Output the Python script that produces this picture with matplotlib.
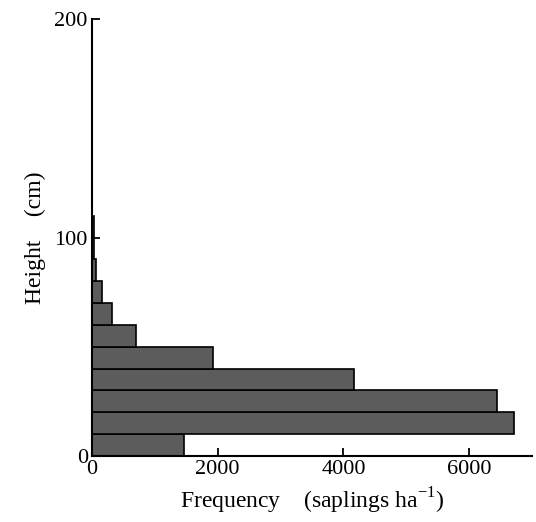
import matplotlib.pyplot as plt

# height classes (cm), lower edges of 10 cm bins
bin_lower = [0, 10, 20, 30, 40, 50, 60, 70, 80, 90, 100]
# saplings per hectare in each class
freq = [1460, 6710, 6450, 4170, 1930, 700, 320, 160, 65, 35, 25]

plt.rcParams['font.family'] = ['Liberation Serif', 'DejaVu Serif']

fig = plt.figure(figsize=(5.36, 5.22), dpi=100)
ax = fig.add_axes([0.1716, 0.1264, 0.8209, 0.8372])

ax.barh(bin_lower, freq, height=10, align='edge', color='#5c5c5c',
        edgecolor='black', linewidth=1.2)

ax.set_xlim(0, 7000)
ax.set_ylim(0, 200)
ax.set_xticks([0, 2000, 4000, 6000])
ax.set_yticks([0, 100, 200])
ax.spines['top'].set_visible(False)
ax.spines['right'].set_visible(False)
for s in ['left', 'bottom']:
    ax.spines[s].set_linewidth(1.5)
ax.tick_params(direction='in', length=6, width=1.3, labelsize=16, pad=3)

ax.set_xlabel('Frequency    (saplings ha$^{\\mathregular{-1}}$)', fontsize=17, labelpad=5)
ax.set_ylabel('Height    (cm)', fontsize=17, labelpad=6)

fig.savefig('out.png', dpi=100)
